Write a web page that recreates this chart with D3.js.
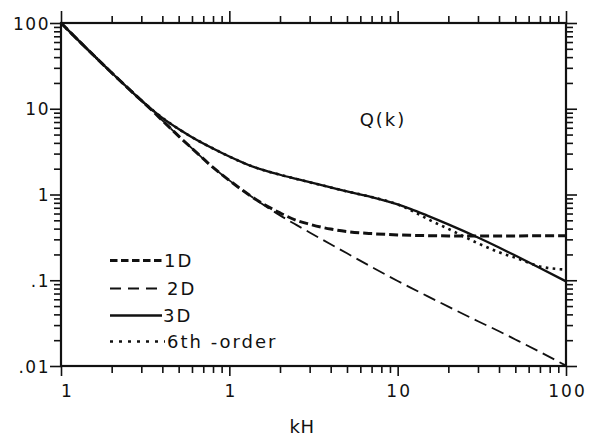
<!DOCTYPE html>
<html>
<head>
<meta charset="utf-8">
<script src="https://cdn.jsdelivr.net/npm/d3@7"></script>
<style>
  html, body { margin: 0; padding: 0; background: #fff; }
  svg { display: block; }
  text { font-family: "DejaVu Sans", "Liberation Sans", Arial, sans-serif; fill: #111; }
</style>
</head>
<body>
<svg id="chart" width="591" height="438"></svg>
<script>
// ---- data ----
const kH   = [0.1, 0.15, 0.2, 0.25, 0.3, 0.35, 0.4, 0.5, 0.6, 0.8, 1, 1.3, 1.6, 2, 2.5, 3, 4, 5, 7, 10, 12, 15, 20, 30, 40, 50, 70, 100];
const q3D  = [100, 45.4, 26.3, 17.4, 12.5, 9.65, 7.83, 5.80, 4.66, 3.44, 2.77, 2.21, 1.92, 1.70, 1.52, 1.39, 1.21, 1.086, 0.933, 0.767, 0.676, 0.567, 0.448, 0.315, 0.241, 0.194, 0.139, 0.097];
const q2D  = [100, 45.4, 26.3, 17.4, 12.5, 9.42, 7.31, 4.79, 3.45, 2.07, 1.46, 1.0, 0.755, 0.571, 0.442, 0.361, 0.263, 0.206, 0.143, 0.098, 0.0815, 0.0652, 0.0492, 0.0333, 0.0254, 0.0204, 0.0146, 0.0101];
const q1D  = [100, 45.4, 26.3, 17.4, 12.5, 9.42, 7.31, 4.79, 3.45, 2.07, 1.46, 1.0, 0.77, 0.61, 0.50, 0.45, 0.395, 0.37, 0.35, 0.338, 0.334, 0.331, 0.329, 0.328, 0.328, 0.329, 0.33, 0.33];
const q6th = [100, 45.4, 26.3, 17.4, 12.5, 9.65, 7.83, 5.80, 4.66, 3.44, 2.77, 2.21, 1.92, 1.70, 1.52, 1.39, 1.21, 1.086, 0.933, 0.767, 0.655, 0.52, 0.397, 0.27, 0.212, 0.183, 0.145, 0.133];

const seriesNames = ["1D", "2D", "3D", "6th -order"];
const xTickValues = [0.1, 1, 10, 100];
const xTickLabels = ["1", "1", "10", "100"];
const yTickValues = [100, 10, 1, 0.1, 0.01];
const yTickLabels = ["100", "10", "1", ".1", ".01"];
const xTitle = "kH";
const plotTitle = "Q(k)";

// ---- layout ----
const L = 61, R = 566, T = 23, B = 366;
const svg = d3.select("#chart");

const x = d3.scaleLog().domain([0.1, 100]).range([L, R]);
const y = d3.scaleLog().domain([0.01, 100]).range([B, T]);

function minorTicks(lo, hi) {
  const out = [];
  for (let d = lo; d < hi * 0.999; d *= 10) {
    for (let m = 1; m <= 9; m++) out.push(+(d * m).toPrecision(3));
  }
  out.push(hi);
  return out;
}
const xAll = minorTicks(0.1, 100);
const yAll = minorTicks(0.01, 100);
const isMajor = v => Math.abs(Math.log10(v) - Math.round(Math.log10(v))) < 1e-6;

function styleAxis(g, majorLen, minorLen, orient) {
  g.select(".domain").remove();
  g.selectAll(".tick line")
    .attr("stroke", "#111").attr("stroke-width", 1.6)
    .each(function(d) {
      const len = isMajor(d) ? majorLen : minorLen;
      const el = d3.select(this);
      if (orient === "bottom") el.attr("y2", len);
      if (orient === "top") el.attr("y2", -len);
      if (orient === "left") el.attr("x2", -len);
      if (orient === "right") el.attr("x2", len);
    });
}

// bottom axis
const gB = svg.append("g").attr("transform", `translate(0,${B})`)
  .call(d3.axisBottom(x).tickValues(xAll).tickSizeOuter(0)
    .tickFormat(v => { const i = xTickValues.findIndex(t => Math.abs(t - v) < 1e-9); return i >= 0 ? xTickLabels[i] : ""; }));
styleAxis(gB, 10, 7, "bottom");
gB.selectAll(".tick text").attr("y", 31).attr("dy", 0)
  .attr("dx", d => (Math.abs(d - 0.1) < 1e-9 ? 6 : 1))
  .style("font-size", "17px").style("letter-spacing", "2px").attr("fill", "#111");

// top axis
const gT = svg.append("g").attr("transform", `translate(0,${T})`)
  .call(d3.axisTop(x).tickValues(xAll).tickFormat(""));
styleAxis(gT, 12, 7, "top");

// left axis
const gL = svg.append("g").attr("transform", `translate(${L},0)`)
  .call(d3.axisLeft(y).tickValues(yAll)
    .tickFormat(v => { const i = yTickValues.findIndex(t => Math.abs(t - v) < 1e-12); return i >= 0 ? yTickLabels[i] : ""; }));
styleAxis(gL, 11, 7, "left");
gL.selectAll(".tick text").attr("x", -11).attr("dy", "0.36em")
  .style("font-size", "17px").style("letter-spacing", "1.5px").attr("fill", "#111");

// right axis
const gR = svg.append("g").attr("transform", `translate(${R},0)`)
  .call(d3.axisRight(y).tickValues(yAll).tickFormat(""));
styleAxis(gR, 11, 7, "right");

// frame
svg.append("rect").attr("x", L).attr("y", T).attr("width", R - L).attr("height", B - T)
  .attr("fill", "none").attr("stroke", "#111").attr("stroke-width", 2.2);

// clip
svg.append("clipPath").attr("id", "clip").append("rect")
  .attr("x", L).attr("y", T - 2).attr("width", R - L + 2).attr("height", B - T + 4);

const line = d3.line().x(d => x(d.k)).y(d => y(d.q)).curve(d3.curveMonotoneX);
const mk = arr => kH.map((k, i) => ({ k, q: arr[i] }));

const styles = {
  "1D":  { w: 3.0, dash: "9,4", legDash: "7.5,3.5" },
  "2D":  { w: 1.8, dash: "13,6", legDash: "11,7" },
  "3D":  { w: 2.3, dash: null, legDash: null },
  "6th -order": { w: 2.6, dash: "2.6,4.4", legDash: "3,6" }
};
const seriesData = { "1D": q1D, "2D": q2D, "3D": q3D, "6th -order": q6th };

const gc = svg.append("g").attr("clip-path", "url(#clip)");
["1D", "2D", "6th -order", "3D"].forEach(name => {
  const s = styles[name];
  gc.append("path").datum(mk(seriesData[name]))
    .attr("d", line).attr("fill", "none").attr("stroke", "#111")
    .attr("stroke-width", s.w).attr("stroke-dasharray", s.dash);
});

// legend
const legX0 = 110;
const legEnds = [163, 157, 162, 165];
const legText = [164, 167, 163, 167];
const legBase = [267, 295, 322, 348];
seriesNames.forEach((name, i) => {
  const s = styles[name];
  svg.append("line").attr("x1", legX0).attr("x2", legEnds[i])
    .attr("y1", legBase[i] - 6.5).attr("y2", legBase[i] - 6.5)
    .attr("stroke", "#111").attr("stroke-width", s.w)
    .attr("stroke-dasharray", s.legDash);
  svg.append("text").attr("x", legText[i]).attr("y", legBase[i])
    .style("font-size", "18px").style("letter-spacing", "2px").text(name);
});

// titles
svg.append("text").attr("x", 383).attr("y", 126).attr("text-anchor", "middle")
  .style("font-size", "18px").style("letter-spacing", "2px").text(plotTitle);
svg.append("text").attr("x", 302).attr("y", 433).attr("text-anchor", "middle")
  .style("font-size", "18px").style("letter-spacing", "0.5px").text(xTitle);
</script>
</body>
</html>
